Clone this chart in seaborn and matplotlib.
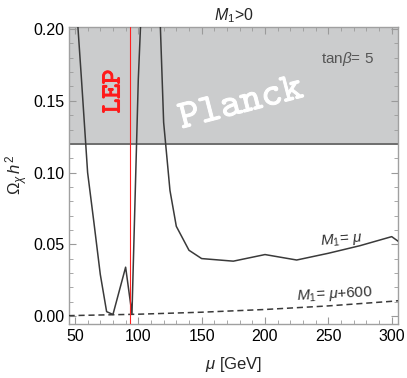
import numpy as np
import pandas as pd
import seaborn as sns
import matplotlib.pyplot as plt
import matplotlib.patheffects as pe

# relic density vs mu, tan(beta)=5, M1>0
mu = [50, 55, 60, 65, 70, 75, 80, 90, 95, 100, 105, 110, 115, 120, 125, 130,
      140, 150, 175, 200, 225, 250, 275, 300, 310]
omega_eq = [0.232, 0.167, 0.100, 0.065, 0.029, 0.003, 0.001, 0.034, 0.0014,
            0.165, 0.27, 0.45, 0.264, 0.135, 0.0875, 0.0625, 0.0458, 0.040,
            0.0382, 0.0428, 0.039, 0.0437, 0.049, 0.0553, 0.049]

mu_600 = [45, 50, 100, 150, 200, 250, 300, 310]
omega_600 = [0.0002, 0.0003, 0.0012, 0.0026, 0.0045, 0.0070, 0.0102, 0.011]

planck = 0.12
lep_bound = 93.3

df_eq = pd.DataFrame({"mu": mu, "omega": omega_eq})
df_600 = pd.DataFrame({"mu": mu_600, "omega": omega_600})

sns.set_style("ticks")
plt.rcParams["font.family"] = ["Liberation Sans", "DejaVu Sans"]
plt.rcParams["mathtext.fontset"] = "custom"
plt.rcParams["mathtext.rm"] = "Liberation Sans"
plt.rcParams["mathtext.it"] = "Liberation Sans:italic"

fig = plt.figure(figsize=(4.07, 3.78), dpi=100)
ax = fig.add_axes([0.1695, 0.1437, 0.8091, 0.7849])

# Planck excluded band
ax.axhspan(planck, 0.3, color="#cbcccd", lw=0, zorder=0)
ax.axhline(planck, color="#6e6e6e", lw=1.4, zorder=2)

sns.lineplot(data=df_eq, x="mu", y="omega", ax=ax, color="#3a3a3a", lw=1.1,
             sort=False, zorder=3)
sns.lineplot(data=df_600, x="mu", y="omega", ax=ax, color="#3a3a3a", lw=1.1,
             sort=False, zorder=3, linestyle=(0, (4, 2.5)))

ax.axvline(lep_bound, color="#ff2020", lw=0.8, zorder=4)

ax.set_xlim(45.3, 305.2)
ax.set_ylim(-0.0054, 0.2015)
ax.set_xticks([50, 100, 150, 200, 250, 300])
ax.set_xticks(np.arange(50, 305, 10), minor=True)
ax.set_yticks([0.0, 0.05, 0.10, 0.15, 0.20])
ax.set_yticklabels(["0.00", "0.05", "0.10", "0.15", "0.20"])
ax.set_yticks(np.arange(0, 0.201, 0.01), minor=True)
ax.tick_params(which="both", direction="in", top=True, right=True,
               color="#9a9a9a", labelsize=11.5, labelcolor="black")
ax.tick_params(which="major", length=5, width=0.8)
ax.tick_params(which="minor", length=2.8, width=0.6)
for s in ax.spines.values():
    s.set_color("#a0a0a0")
    s.set_linewidth(1.0)

ax.set_xlabel(r"$\mu$ [GeV]", fontsize=12, labelpad=8)
ax.set_ylabel(r"$\Omega_\chi\, h^2$", fontsize=12, labelpad=2)
ax.set_title(r"$M_1$>0", fontsize=11.5, pad=5)

ax.text(0.846, 0.892, r"tan$\beta$= 5", transform=ax.transAxes, fontsize=11,
        color="#555555", ha="center", va="center")
# typewriter labels (computer modern tt, thickened a little)
ax.text(0.523, 0.747, r"$\mathtt{Planck}$", transform=ax.transAxes,
        fontsize=29, math_fontfamily="cm", color="white",
        rotation=14.5, ha="center", va="center",
        path_effects=[pe.withStroke(linewidth=0.7, foreground="white")])
ax.text(0.133, 0.784, r"$\mathtt{LEP}$", transform=ax.transAxes,
        fontsize=20, math_fontfamily="cm", color="#ff1a1a",
        rotation=90, ha="center", va="center",
        path_effects=[pe.withStroke(linewidth=0.7, foreground="#ff1a1a")])
ax.text(0.828, 0.282, r"$M_1$= $\mu$", transform=ax.transAxes, fontsize=11,
        color="#333333", rotation=5, ha="center", va="center")
ax.text(0.808, 0.097, r"$M_1$= $\mu$+600", transform=ax.transAxes, fontsize=11,
        color="#333333", rotation=3, ha="center", va="center")

fig.savefig("out.png", dpi=100)
